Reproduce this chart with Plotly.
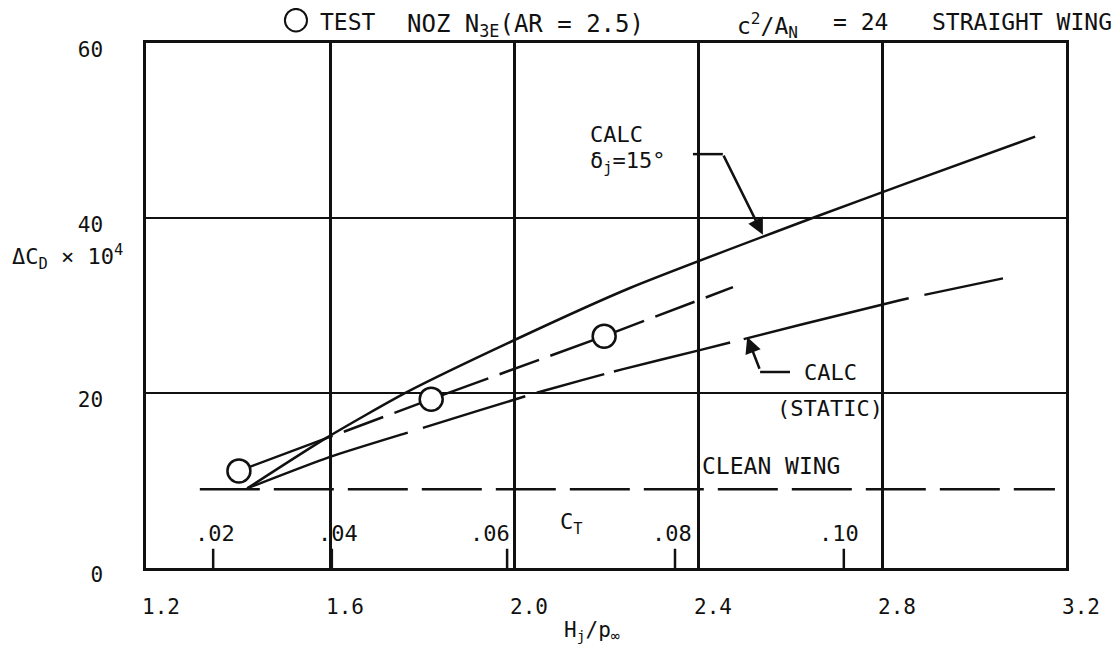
import plotly.graph_objects as go

# ---- data ----
calc_jet_x = [1.42, 1.593, 1.767, 2.007, 2.252, 2.659, 2.85, 3.133]
calc_jet_y = [9.1, 14.9, 20.1, 26.2, 32.0, 40.2, 43.9, 49.3]

calc_static_x = [1.42, 1.60, 1.789, 2.061, 2.235, 2.404, 2.839, 3.063]
calc_static_y = [9.1, 12.7, 15.8, 20.2, 22.7, 24.9, 30.6, 33.1]

test_x = [1.402, 1.82, 2.196]
test_y = [11.1, 19.3, 26.5]

fair_x = [1.402, 1.82, 2.196, 2.476]
fair_y = [11.1, 19.3, 26.5, 32.1]

clean_x = [1.317, 3.176]
clean_y = [9.0, 9.0]

ct_labels = [".02", ".04", ".06", ".08", ".10"]
ct_pos = [1.346, 1.604, 1.985, 2.350, 2.717]   # C_T scale positions on the Hj/p axis
ct_label_shift = [2, 6, -17, -3, -5]

x_ticks = [1.2, 1.6, 2.0, 2.4, 2.8, 3.2]
y_ticks = [0, 20, 40, 60]

FONT = "DejaVu Sans Mono"
BLACK = "#111111"

fig = go.Figure()

# clean wing (dashed)
fig.add_trace(go.Scatter(x=clean_x, y=clean_y, mode="lines",
                         line=dict(color=BLACK, width=2.5, dash="60px,14px"),
                         showlegend=False, hoverinfo="skip"))
# calc jet curve (solid)
fig.add_trace(go.Scatter(x=calc_jet_x, y=calc_jet_y, mode="lines",
                         line=dict(color=BLACK, width=2.5, shape="spline", smoothing=0.6),
                         showlegend=False, hoverinfo="skip"))
# calc static (long dash)
fig.add_trace(go.Scatter(x=calc_static_x, y=calc_static_y, mode="lines",
                         line=dict(color=BLACK, width=2.5, dash="170px,16px,107px,12px,70px,10px,120px,14px",
                                   shape="spline", smoothing=0.6),
                         showlegend=False, hoverinfo="skip"))
# test fairing (dashed)
fig.add_trace(go.Scatter(x=fair_x, y=fair_y, mode="lines",
                         line=dict(color=BLACK, width=2.5, dash="100px,12px,42px,12px"),
                         showlegend=False, hoverinfo="skip"))
# test points
fig.add_trace(go.Scatter(x=test_x, y=test_y, mode="markers",
                         marker=dict(symbol="circle", size=23, color="white",
                                     line=dict(color=BLACK, width=2.5)),
                         showlegend=False, hoverinfo="skip"))

# C_T scale tick marks
ct_tx, ct_ty = [], []
for p in ct_pos:
    ct_tx += [p, p, None]
    ct_ty += [0, 2.2, None]
fig.add_trace(go.Scatter(x=ct_tx, y=ct_ty, mode="lines",
                         line=dict(color=BLACK, width=2.5),
                         showlegend=False, hoverinfo="skip"))

TXT = dict(family=FONT, size=22, color=BLACK)

ann = []
for lab, p, s in zip(ct_labels, ct_pos, ct_label_shift):
    ann.append(dict(x=p, y=4.0, text=lab, showarrow=False, xshift=s, font=TXT))
ann.append(dict(x=2.096, y=5.1, text="C<sub>T</sub>", showarrow=False, xanchor="left", font=TXT))

# labels on curves
ann.append(dict(x=2.161, y=49.5, text="CALC", showarrow=False, xanchor="left", font=TXT))
ann.append(dict(x=2.161, y=46.4, text="δ<sub>j</sub>=15°", showarrow=False, xanchor="left", font=TXT))
ann.append(dict(x=2.541, y=38.1, ax=2.454, ay=47.3, xref="x", yref="y", axref="x", ayref="y",
                text="", showarrow=True, arrowhead=2, arrowsize=1.3, arrowwidth=2.5, arrowcolor=BLACK))
ann.append(dict(x=2.626, y=22.4, text="CALC", showarrow=False, xanchor="left", font=TXT))
ann.append(dict(x=2.567, y=18.2, text="(STATIC)", showarrow=False, xanchor="left", font=TXT))
ann.append(dict(x=2.507, y=26.4, ax=2.535, ay=22.6, xref="x", yref="y", axref="x", ayref="y",
                text="", showarrow=True, arrowhead=2, arrowsize=1.3, arrowwidth=2.5, arrowcolor=BLACK))
ann.append(dict(x=2.404, y=11.7, text="CLEAN WING", showarrow=False, xanchor="left",
                font=dict(family=FONT, size=23, color=BLACK)))

# axis titles
ann.append(dict(x=-0.148, y=35.6, xref="paper", yref="y", xanchor="left",
                text="ΔC<sub>D</sub> × 10<sup>4</sup>", showarrow=False,
                font=dict(family=FONT, size=22, color=BLACK)))
ann.append(dict(x=0.485, y=-0.12, xref="paper", yref="paper", yanchor="middle",
                text="H<sub>j</sub>/p<sub>∞</sub>", showarrow=False,
                font=dict(family=FONT, size=21, color=BLACK)))

# header pieces
HDR = dict(family=FONT, size=23, color=BLACK)
hy = 1.040
ann.append(dict(x=0.187, y=hy, xref="paper", yref="paper", xanchor="left", yanchor="middle",
                text="TEST", showarrow=False, font=HDR))
ann.append(dict(x=0.2815, y=hy - 0.006, xref="paper", yref="paper", xanchor="left", yanchor="middle",
                text="NOZ\u00a0N<sub>3E</sub>(AR\u00a0=\u00a02.5)", showarrow=False,
                font=dict(family=FONT, size=24, color=BLACK)))
ann.append(dict(x=0.640, y=hy - 0.006, xref="paper", yref="paper", xanchor="left", yanchor="middle",
                text="c<sup>2</sup>/A<sub>N</sub>", showarrow=False, font=HDR))
ann.append(dict(x=0.745, y=hy, xref="paper", yref="paper", xanchor="left", yanchor="middle",
                text="=\u00a024", showarrow=False, font=HDR))
ann.append(dict(x=0.852, y=hy, xref="paper", yref="paper", xanchor="left", yanchor="middle",
                text="STRAIGHT\u00a0WING", showarrow=False, font=HDR))

shapes = [
    # header "test" symbol
    dict(type="circle", xref="paper", yref="paper", x0=0.151, x1=0.175, y0=1.022, y1=1.065,
         line=dict(color=BLACK, width=2)),
    dict(type="line", xref="x", yref="y", x0=2.389, y0=47.3, x1=2.454, y1=47.3,
         line=dict(color=BLACK, width=2.5)),
    dict(type="line", xref="x", yref="y", x0=2.6, y0=22.4, x1=2.535, y1=22.4,
         line=dict(color=BLACK, width=2.5)),
]

fig.update_layout(
    width=1104, height=644,
    margin=dict(l=138, r=46, t=35, b=84),
    paper_bgcolor="white", plot_bgcolor="white",
    annotations=ann, shapes=shapes,
    xaxis=dict(range=[1.2, 3.2], tickvals=x_ticks, ticktext=[f"{v:.1f}" for v in x_ticks],
               showgrid=True, gridcolor=BLACK, gridwidth=2.5, zeroline=False,
               showline=True, linecolor=BLACK, linewidth=2.5, mirror=True,
               ticks="", ticklabelstandoff=18, ticklabelshift=15,
               tickfont=dict(family=FONT, size=21, color=BLACK)),
    yaxis=dict(range=[0, 60], tickvals=y_ticks,
               showgrid=True, gridcolor=BLACK, gridwidth=2, zeroline=False,
               showline=True, linecolor=BLACK, linewidth=2.5, mirror=True,
               ticks="", ticklabelstandoff=36, ticklabelshift=7,
               tickfont=dict(family=FONT, size=21, color=BLACK)),
)

fig.write_html("out.html")
